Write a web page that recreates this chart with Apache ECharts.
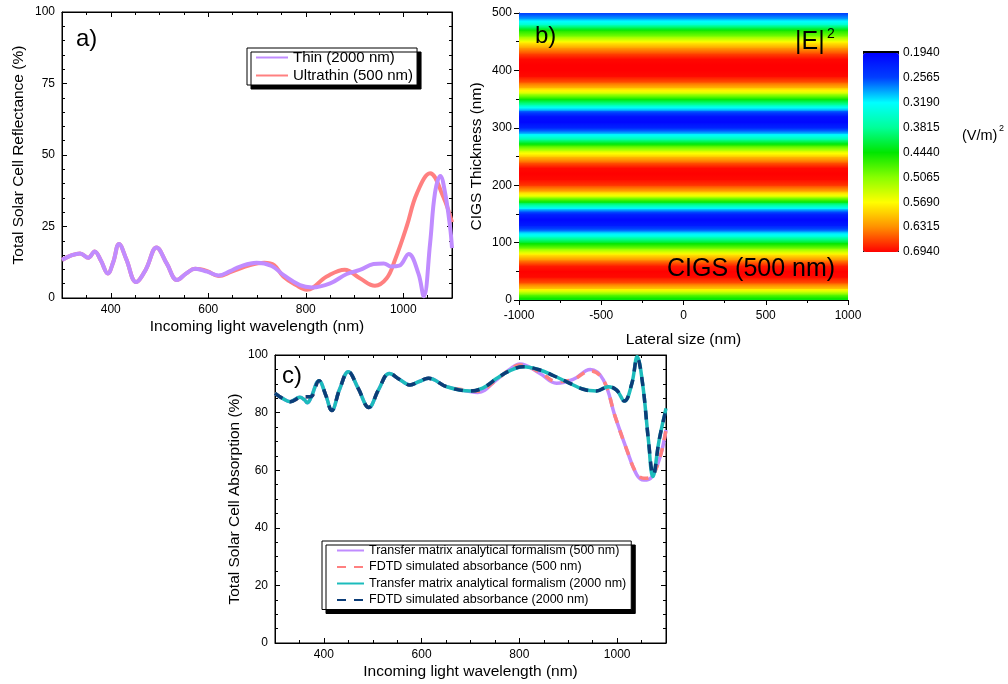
<!DOCTYPE html>
<html>
<head>
<meta charset="utf-8">
<script src="https://cdn.jsdelivr.net/npm/echarts@6/dist/echarts.min.js"></script>
<style>
    html, body {margin: 0; padding: 0; background: #fff;}
    #graph {width: 1008px; height: 684px;}
</style>
</head>
<body>
<div id="graph"></div>
<script>
// a) reflectance
var thinWl = [300, 318, 337, 354, 367, 380, 394, 405, 417, 432, 452, 472, 494, 515, 536, 555, 573, 598, 621, 645, 665, 699, 730, 754, 788, 813, 850, 884, 911, 939, 960, 975, 992, 1011, 1031, 1042, 1055, 1065, 1076, 1086, 1096, 1100];
var thinR = [13.3, 14.8, 15.6, 14.1, 16.3, 13.0, 8.6, 12.5, 18.9, 13.5, 5.6, 10.0, 17.7, 12.0, 6.3, 8.6, 10.2, 9.2, 7.9, 9.4, 11.0, 12.3, 11.2, 8.1, 4.5, 3.7, 5.1, 8.4, 9.8, 11.9, 12.1, 11.0, 11.3, 15.4, 8.6, 0.6, 19.0, 36.6, 42.7, 36.6, 24.9, 17.4];
var ultraWl = [300, 318, 337, 354, 367, 380, 394, 405, 417, 432, 452, 472, 494, 515, 536, 555, 573, 598, 621, 648, 686, 715, 735, 754, 780, 802, 843, 880, 911, 942, 966, 983, 1007, 1028, 1055, 1082, 1100];
var ultraR = [13.3, 14.8, 15.6, 14.1, 16.3, 13.0, 8.6, 12.5, 18.9, 13.5, 5.6, 10.0, 17.7, 12.0, 6.3, 8.6, 10.2, 9.4, 7.7, 9.2, 11.5, 12.3, 11.5, 7.5, 4.5, 2.9, 7.5, 9.9, 6.9, 4.3, 6.9, 13.3, 25.0, 36.6, 43.6, 35.4, 26.5];

// b) |E|^2 across the CIGS thickness (uniform along lateral size)
var lateral = [-1000, 1000];
var thickness = [0, 10, 20, 30, 40, 50, 60, 70, 80, 90, 100, 110, 120, 130, 140, 150, 160, 170, 180, 190, 200, 210, 220, 230, 240, 250, 260, 270, 280, 290, 300, 310, 320, 330, 340, 350, 360, 370, 380, 390, 400, 410, 420, 430, 440, 450, 460, 470, 480, 490, 500];
var field = [0.43, 0.50, 0.60, 0.66, 0.69, 0.694, 0.68, 0.63, 0.575, 0.50, 0.43, 0.35, 0.28, 0.22, 0.20, 0.23, 0.32, 0.43, 0.54, 0.62, 0.67, 0.69, 0.694, 0.69, 0.65, 0.60, 0.54, 0.46, 0.37, 0.30, 0.23, 0.20, 0.21, 0.28, 0.37, 0.45, 0.54, 0.61, 0.66, 0.69, 0.694, 0.694, 0.69, 0.66, 0.62, 0.57, 0.50, 0.45, 0.35, 0.29, 0.25];
var colorbarTicks = ['0.1940', '0.2565', '0.3190', '0.3815', '0.4440', '0.5065', '0.5690', '0.6315', '0.6940'];
var colorbarColors = ['#0000ff', '#0040ff', '#00ffff', '#00ff99', '#00e600', '#88ff00', '#ffff00', '#ff9000', '#ff0000'];
var fieldMin = 0.194, fieldMax = 0.694;

// c) absorption
var tm500Wl = [300, 315, 331, 351, 360, 366, 373, 390, 404, 416, 432, 450, 470, 492, 512, 534, 555, 576, 595, 614, 651, 699, 715, 754, 780, 801, 842, 876, 910, 945, 972, 996, 1020, 1040, 1055, 1070, 1088, 1100];
var tm500A = [86.7, 85.0, 83.8, 85.3, 84.5, 83.4, 85.0, 91.1, 86.0, 80.7, 88.0, 94.2, 88.5, 81.8, 88.0, 93.6, 91.5, 89.6, 90.8, 91.9, 89.0, 87.3, 87.0, 91.5, 95.0, 96.9, 93.6, 90.2, 91.5, 95.0, 91.3, 78.6, 67.0, 58.5, 56.6, 57.5, 64.7, 74.0];
var fd500Wl = [300, 315, 331, 351, 360, 366, 373, 390, 404, 416, 432, 450, 470, 492, 512, 534, 555, 576, 595, 614, 651, 699, 715, 754, 780, 801, 842, 876, 910, 945, 972, 996, 1020, 1040, 1055, 1070, 1088, 1100];
var fd500A = [86.7, 85.0, 83.8, 85.3, 85.5, 85.5, 85.5, 91.1, 86.0, 80.7, 88.0, 94.2, 88.5, 81.8, 88.0, 93.6, 91.5, 89.6, 90.8, 91.9, 89.0, 87.6, 87.4, 91.5, 95.0, 96.5, 94.0, 90.8, 91.5, 94.5, 91.3, 78.6, 67.0, 58.8, 57.2, 57.8, 64.7, 74.0];
var tm2000Wl = [300, 315, 331, 351, 360, 366, 373, 390, 404, 416, 432, 450, 470, 492, 512, 534, 555, 576, 595, 614, 651, 699, 725, 754, 780, 808, 842, 870, 897, 931, 958, 982, 999, 1015, 1030, 1041, 1052, 1064, 1073, 1086, 1100];
var tm2000A = [86.7, 85.0, 83.8, 85.3, 84.5, 83.4, 85.0, 91.1, 86.0, 80.7, 88.0, 94.2, 88.5, 81.8, 88.0, 93.6, 91.5, 89.6, 90.8, 91.9, 89.0, 87.5, 88.5, 91.9, 94.5, 95.9, 94.8, 92.8, 90.7, 88.1, 87.5, 89.0, 87.8, 84.0, 90.0, 99.4, 90.2, 70.5, 57.8, 70.5, 81.5];
var fd2000Wl = [300, 315, 331, 351, 360, 366, 373, 390, 404, 416, 432, 450, 470, 492, 512, 534, 555, 576, 595, 614, 651, 699, 725, 754, 780, 808, 842, 870, 897, 931, 958, 982, 999, 1015, 1030, 1041, 1052, 1064, 1074, 1086, 1100];
var fd2000A = [86.7, 85.0, 83.8, 85.3, 85.5, 85.5, 85.5, 91.1, 86.0, 80.7, 88.0, 94.2, 88.5, 81.8, 88.0, 93.6, 91.5, 89.6, 90.8, 91.9, 89.0, 87.5, 88.5, 91.9, 94.5, 95.9, 94.8, 92.8, 90.7, 88.1, 87.5, 89.0, 87.8, 84.0, 90.0, 99.0, 90.2, 70.5, 58.3, 70.5, 81.0];

var FONT = 'Liberation Sans';
var TITLE_SIZE = 15.5;

function pairs(xs, ys) {
    return xs.map(function (x, i) { return [x, ys[i]]; });
}

function hexRgb(h) {
    return [parseInt(h.substr(1, 2), 16), parseInt(h.substr(3, 2), 16), parseInt(h.substr(5, 2), 16)];
}

// same colour scale as the colour bar
function colorAt(v) {
    var t = (v - fieldMin) / (fieldMax - fieldMin);
    t = Math.max(0, Math.min(1, t)) * (colorbarColors.length - 1);
    var i = Math.min(Math.floor(t), colorbarColors.length - 2);
    var f = t - i;
    var a = hexRgb(colorbarColors[i]), b = hexRgb(colorbarColors[i + 1]);
    return 'rgb(' + Math.round(a[0] + (b[0] - a[0]) * f) + ',' + Math.round(a[1] + (b[1] - a[1]) * f) + ',' + Math.round(a[2] + (b[2] - a[2]) * f) + ')';
}

function renderBand(params, api) {
    var topLeft = api.coord([api.value(0), api.value(3)]);
    var bottomRight = api.coord([api.value(1), api.value(2)]);
    var v0 = api.value(4), v1 = api.value(5);
    var stops = [];
    for (var k = 0; k <= 4; k++) {
        stops.push({offset: k / 4, color: colorAt(v1 + (v0 - v1) * k / 4)});
    }
    return {
        type: 'rect',
        shape: {
            x: topLeft[0],
            y: topLeft[1] - 0.5,
            width: bottomRight[0] - topLeft[0],
            height: bottomRight[1] - topLeft[1] + 1
        },
        style: {fill: new echarts.graphic.LinearGradient(0, 0, 0, 1, stops)}
    };
}

var bands = [];
for (var i = 0; i < thickness.length - 1; i++) {
    bands.push([lateral[0], lateral[1], thickness[i], thickness[i + 1], field[i], field[i + 1]]);
}

function plain(v) {
    return String(v);
}

// framed value axis (Origin style, ticks inside)
function frameX(grid, pos, min, max, labels, name, gap) {
    return {
        type: 'value', gridIndex: grid, position: pos, min: min, max: max,
        name: labels ? name : '', nameLocation: 'middle', nameGap: gap || 0,
        nameTextStyle: {fontSize: TITLE_SIZE, color: '#000', fontFamily: FONT},
        axisLine: {show: true, onZero: false, lineStyle: {color: '#000', width: 1}},
        axisTick: {show: true, inside: true, length: 5, lineStyle: {color: '#000'}},
        minorTick: {show: true, splitNumber: 4, length: 3, lineStyle: {color: '#000'}},
        axisLabel: {show: labels, showMinLabel: false, showMaxLabel: false, margin: 6, fontSize: 12, color: '#000', fontFamily: FONT, formatter: plain},
        splitLine: {show: false}
    };
}

function frameY(grid, pos, interval, minorSplit, labels, name, gap) {
    return {
        type: 'value', gridIndex: grid, position: pos, min: 0, max: 100, interval: interval,
        name: labels ? name : '', nameLocation: 'middle', nameGap: gap || 0,
        nameTextStyle: {fontSize: TITLE_SIZE, color: '#000', fontFamily: FONT},
        axisLine: {show: true, onZero: false, lineStyle: {color: '#000', width: 1}},
        axisTick: {show: true, inside: true, length: 5, lineStyle: {color: '#000'}},
        minorTick: {show: true, splitNumber: minorSplit, length: 3, lineStyle: {color: '#000'}},
        axisLabel: {show: labels, margin: 7, fontSize: 12, color: '#000', fontFamily: FONT},
        splitLine: {show: false}
    };
}

function lineSeries(name, x, y, data, color, width, dash) {
    return {
        name: name, type: 'line', xAxisIndex: x, yAxisIndex: y,
        data: data, smooth: 0.4,
        symbol: 'none', showSymbol: false, silent: true,
        lineStyle: {color: color, width: width, type: dash || 'solid', cap: 'butt'},
        itemStyle: {color: color}
    };
}

// empty series so the mirrored top/right axes get drawn
function mirror(x, y) {
    return {type: 'line', xAxisIndex: x, yAxisIndex: y, data: [], silent: true, symbol: 'none'};
}

function label(text, left, top, size) {
    return {type: 'text', left: left, top: top, z: 50, silent: true, style: {text: text, fontSize: size, fill: '#000', fontFamily: FONT}};
}

var legendBase = {
    orient: 'vertical', backgroundColor: '#fff', borderColor: '#000', borderWidth: 1,
    shadowColor: '#000', shadowBlur: 0, shadowOffsetX: 4, shadowOffsetY: 4,
    borderRadius: 0, selectedMode: false,
    itemStyle: {color: 'rgba(0,0,0,0)', borderColor: 'rgba(0,0,0,0)', borderWidth: 0, opacity: 0}
};

var option = {
    animation: false,
    textStyle: {fontFamily: FONT},
    grid: [
        {left: 62, top: 12, width: 390, height: 286, show: true, borderColor: '#000', borderWidth: 1, backgroundColor: 'transparent'},
        {left: 519, top: 13, width: 329, height: 287},
        {left: 863, top: 53, width: 36, height: 199},
        {left: 275, top: 355, width: 391, height: 288, show: true, borderColor: '#000', borderWidth: 1, backgroundColor: 'transparent'}
    ],
    title: [
        {text: '|E|', left: 795, top: 30, padding: 0, textStyle: {fontSize: 25, fontWeight: 'normal', color: '#000', fontFamily: FONT}},
        {text: '2', left: 827, top: 27, padding: 0, textStyle: {fontSize: 14, fontWeight: 'normal', color: '#000', fontFamily: FONT}}
    ],
    xAxis: [
        frameX(0, 'bottom', 300, 1100, true, 'Incoming light wavelength (nm)', 21),
        frameX(0, 'top', 300, 1100, false),
        {
            type: 'value', gridIndex: 1, min: -1000, max: 1000, interval: 500,
            name: 'Lateral size (nm)', nameLocation: 'middle', nameGap: 32,
            nameTextStyle: {fontSize: TITLE_SIZE, color: '#000', fontFamily: FONT},
            axisLine: {show: true, onZero: false, lineStyle: {color: '#000'}},
            axisTick: {show: true, length: 5, lineStyle: {color: '#000'}},
            minorTick: {show: true, splitNumber: 2, length: 3, lineStyle: {color: '#000'}},
            axisLabel: {margin: 10, fontSize: 12, color: '#000', fontFamily: FONT, formatter: plain},
            splitLine: {show: false}
        },
        {type: 'value', gridIndex: 2, show: false},
        frameX(3, 'bottom', 300, 1100, true, 'Incoming light wavelength (nm)', 21),
        frameX(3, 'top', 300, 1100, false)
    ],
    yAxis: [
        frameY(0, 'left', 25, 5, true, 'Total Solar Cell Reflectance (%)', 35),
        frameY(0, 'right', 25, 5, false),
        {
            type: 'value', gridIndex: 1, min: 0, max: 500, interval: 100,
            name: 'CIGS Thickness (nm)', nameLocation: 'middle', nameGap: 34,
            nameTextStyle: {fontSize: TITLE_SIZE, color: '#000', fontFamily: FONT},
            axisLine: {show: true, onZero: false, lineStyle: {color: '#000'}},
            axisTick: {show: true, length: 5, lineStyle: {color: '#000'}},
            minorTick: {show: true, splitNumber: 2, length: 3, lineStyle: {color: '#000'}},
            axisLabel: {margin: 7, fontSize: 12, color: '#000', fontFamily: FONT},
            splitLine: {show: false}
        },
        {
            type: 'category', gridIndex: 2, position: 'right', inverse: true, boundaryGap: false,
            data: colorbarTicks,
            axisLine: {show: false}, axisTick: {show: false}, splitLine: {show: false},
            axisLabel: {margin: 4, fontSize: 12, color: '#000', fontFamily: FONT, interval: 0}
        },
        frameY(3, 'left', 20, 4, true, 'Total Solar Cell Absorption (%)', 32),
        frameY(3, 'right', 20, 4, false)
    ],
    visualMap: {
        type: 'continuous', seriesIndex: 2, dimension: 4,
        min: fieldMin, max: fieldMax, inverse: true, calculable: false,
        orient: 'vertical', left: 863, top: 51, itemWidth: 36, itemHeight: 199,
        padding: [2, 0, 0, 0], backgroundColor: '#000', borderWidth: 0,
        inRange: {color: colorbarColors}, hoverLink: false
    },
    legend: [
        Object.assign({}, legendBase, {
            data: ['Thin (2000 nm)', 'Ultrathin (500 nm)'],
            left: 247, top: 48, padding: [2, 4, 2, 8], itemGap: 3,
            itemWidth: 32, itemHeight: 16, textStyle: {color: '#000', fontFamily: FONT, fontSize: 15}
        }),
        Object.assign({}, legendBase, {
            data: ['Transfer matrix analytical formalism (500 nm)', 'FDTD simulated absorbance (500 nm)',
                'Transfer matrix analytical formalism (2000 nm)', 'FDTD simulated absorbance (2000 nm)'],
            left: 322, top: 541, padding: [3, 5, 3, 14], itemGap: 3.5,
            itemWidth: 27, itemHeight: 12.3, textStyle: {color: '#000', fontFamily: FONT, fontSize: 12.5}
        })
    ],
    series: [
        lineSeries('Ultrathin (500 nm)', 0, 0, pairs(ultraWl, ultraR), '#ff8080', 4),
        lineSeries('Thin (2000 nm)', 0, 0, pairs(thinWl, thinR), '#c08cff', 4),
        {
            type: 'custom', xAxisIndex: 2, yAxisIndex: 2, silent: true,
            renderItem: renderBand, clip: true,
            encode: {x: [0, 1], y: [2, 3]},
            data: bands
        },
        lineSeries('Transfer matrix analytical formalism (500 nm)', 4, 4, pairs(tm500Wl, tm500A), '#c08cff', 3.5),
        lineSeries('FDTD simulated absorbance (500 nm)', 4, 4, pairs(fd500Wl, fd500A), '#ff8080', 3.5, [9, 8]),
        lineSeries('Transfer matrix analytical formalism (2000 nm)', 4, 4, pairs(tm2000Wl, tm2000A), '#1cbcbc', 3.5),
        lineSeries('FDTD simulated absorbance (2000 nm)', 4, 4, pairs(fd2000Wl, fd2000A), '#0c3d78', 3.5, [9, 8]),
        mirror(1, 1),
        mirror(5, 5)
    ],
    graphic: [
        label('a)', 76, 27, 24),
        label('b)', 535, 24, 24),
        label('c)', 282, 364, 24),
        label('CIGS (500 nm)', 667, 257, 25),
        label('(V/m)', 962, 128, 14.5),
        {type: 'text', left: 999, top: 124, z: 50, silent: true, style: {text: '2', fontSize: 9, fill: '#000', fontFamily: FONT}}
    ]
};

var chart = echarts.init(document.getElementById('graph'));
chart.setOption(option, true);
</script>
</body>
</html>
